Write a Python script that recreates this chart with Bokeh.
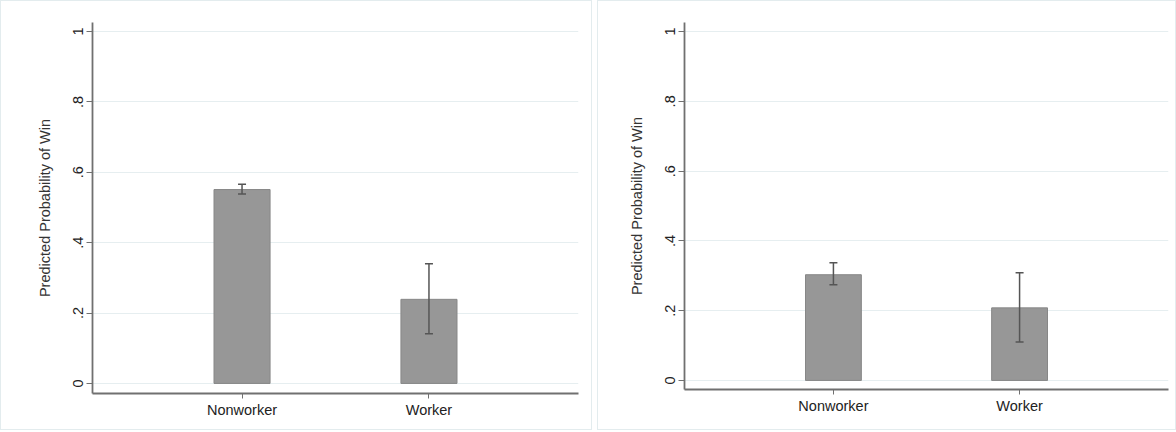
from bokeh.plotting import figure
from bokeh.layouts import row
from bokeh.models import ColumnDataSource, Range1d, FixedTicker, CustomJSTickFormatter, Whisker, TeeHead
from bokeh.embed import file_html
from bokeh.resources import INLINE

categories = ["Nonworker", "Worker"]
left_prob = [0.551, 0.239]
left_lo = [0.538, 0.141]
left_hi = [0.566, 0.340]
right_prob = [0.303, 0.208]
right_lo = [0.274, 0.110]
right_hi = [0.337, 0.309]
y_ticks = [0, 0.2, 0.4, 0.6, 0.8, 1]
y_title = "Predicted Probability of Win"

FONT = "Liberation Sans"
BAR_FILL = "#979797"
BAR_LINE = "#878787"
ERR = "#555555"
AXIS = "#707070"
GRID = "#e6eef0"


def make_panel(prob, lo, hi, frame_w, frame_h, bl, br, bt, bb, y0, y1):
    x_pos = [i + 1 for i in range(len(categories))]
    src = ColumnDataSource(dict(x=x_pos, cat=categories, prob=prob, lo=lo, hi=hi))
    p = figure(x_range=Range1d(0.2, len(categories) + 0.8), y_range=Range1d(y0, y1),
               frame_width=frame_w, frame_height=frame_h,
               min_border_left=bl, min_border_right=br, min_border_top=bt, min_border_bottom=bb,
               output_backend="svg", toolbar_location=None,
               background_fill_color="white", border_fill_color="white",
               styles={"border": "1px solid #e3ecee"})
    p.outline_line_color = None
    p.vbar(x="x", top="prob", bottom=0, width=0.3, source=src,
           fill_color=BAR_FILL, line_color=BAR_LINE, line_width=1)
    w = Whisker(base="x", lower="lo", upper="hi", source=src, level="overlay",
                line_color=ERR, line_width=1.5,
                upper_head=TeeHead(size=8, line_color=ERR, line_width=1.5),
                lower_head=TeeHead(size=8, line_color=ERR, line_width=1.5))
    p.add_layout(w)

    p.xgrid.visible = False
    p.ygrid.grid_line_color = GRID
    p.ygrid.grid_line_width = 1
    p.ygrid.ticker = FixedTicker(ticks=y_ticks)

    for ax in (p.xaxis[0], p.yaxis[0]):
        ax.axis_line_color = AXIS
        ax.axis_line_width = 1.8
        ax.major_tick_line_color = AXIS
        ax.major_tick_line_width = 1
        ax.major_tick_in = 0
        ax.minor_tick_line_color = None
        ax.major_label_text_font = FONT
        ax.major_label_text_font_size = "14.5px"
        ax.major_label_text_color = "#222222"

    p.xaxis.ticker = FixedTicker(ticks=x_pos)
    p.xaxis.major_label_overrides = {x: c for x, c in zip(x_pos, categories)}
    p.xaxis.major_tick_out = 5
    p.xaxis.major_label_standoff = 3

    p.yaxis.ticker = FixedTicker(ticks=y_ticks)
    p.yaxis.formatter = CustomJSTickFormatter(code="""
        if (Math.abs(tick) < 1e-9) return '0';
        if (Math.abs(tick - 1) < 1e-9) return '1';
        return tick.toFixed(1).replace(/^0/, '');
    """)
    p.yaxis.major_label_orientation = "vertical"
    p.yaxis.major_tick_out = 6
    p.yaxis.major_label_standoff = 3
    p.yaxis.axis_label = y_title
    p.yaxis.axis_label_text_font = FONT
    p.yaxis.axis_label_text_font_size = "14.5px"
    p.yaxis.axis_label_text_font_style = "normal"
    p.yaxis.axis_label_text_color = "#333333"
    p.yaxis.axis_label_standoff = 18
    return p


left = make_panel(left_prob, left_lo, left_hi, 484, 369, 91, 15, 21, 38, -0.0286, 1.0257)
right = make_panel(right_prob, right_lo, right_hi, 482, 365, 86, 9, 21, 42, -0.026, 1.026)

layout = row(left, right, spacing=5)
open("out.html", "w").write(file_html(layout, INLINE))
